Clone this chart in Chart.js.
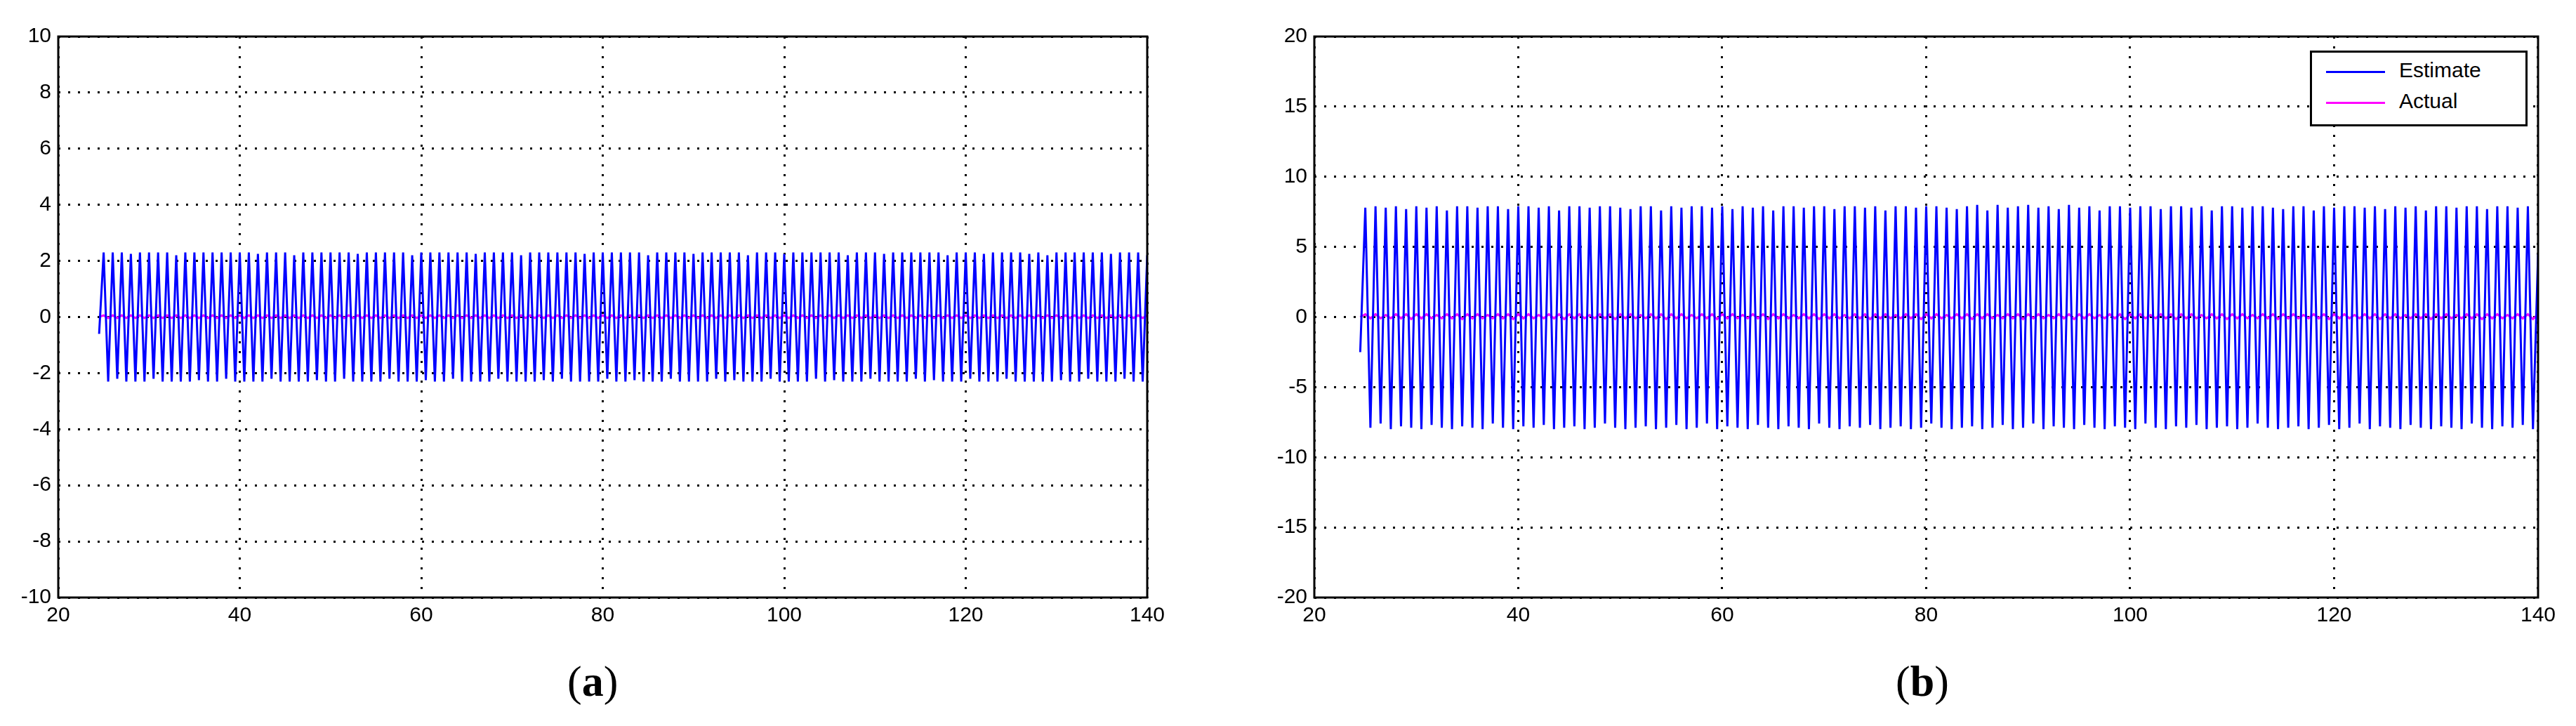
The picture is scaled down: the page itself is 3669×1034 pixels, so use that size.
<!DOCTYPE html>
<html>
<head>
<meta charset="utf-8">
<script src="https://cdn.jsdelivr.net/npm/chart.js@4.4.1/dist/chart.umd.min.js"></script>
<style>
  body { margin: 0; background: #fff; width: 3669px; height: 1034px; position: relative; overflow: hidden; }
  canvas { position: absolute; top: 0; }
  .cap { position: absolute; top: 935px; font-family: 'Liberation Serif', serif; font-size: 62px; }
  #legend { position: absolute; left: 3290px; top: 72px; width: 304px; height: 102px; border: 3px solid #000; background: #fff;
            font-family: 'Liberation Sans Narrow', 'Liberation Sans', sans-serif; font-size: 30px; }
  #legend div { position: absolute; left: 124px; }
  #legend span { position: absolute; left: -104px; width: 84px; height: 3px; top: 18px; }
</style>
</head>
<body>
<canvas id="chartA" width="1700" height="900" style="left:0px;width:1700px;height:900px"></canvas>
<canvas id="chartB" width="1868" height="900" style="left:1780px;width:1868px;height:900px"></canvas>
<div class="cap" style="left:808px">(<b>a</b>)</div>
<div class="cap" style="left:2700px">(<b>b</b>)</div>
<div id="legend">
  <div style="top:8px"><span style="background:#0000ff"></span>Estimate</div>
  <div style="top:52px"><span style="background:#ff00ff"></span>Actual</div>
</div>
<script>
// time axis: samples every 0.5 starting at 24.5
var tStart = 24.5, tStep = 0.5;
var xTicks = [20, 40, 60, 80, 100, 120, 140];
var yTicksA = [-10, -8, -6, -4, -2, 0, 2, 4, 6, 8, 10];
var yTicksB = [-20, -15, -10, -5, 0, 5, 10, 15, 20];

// (a) estimate and actual
var estimateA = [
 -0.6, 2.3, -2.3, 2.3, -2.2, 2.3, -2.3, 2.25, -2.3, 2.3, -2.3, 2.3, -2.2, 2.3, -2.3, 2.3,
 -2.3, 2.2, -2.3, 2.3, -2.3, 2.3, -2.25, 2.3, -2.3, 2.3, -2.3, 2.3, -2.2, 2.3, -2.3, 2.3,
 -2.3, 2.3, -2.3, 2.25, -2.3, 2.3, -2.2, 2.3, -2.3, 2.3, -2.3, 2.2, -2.3, 2.3, -2.3, 2.3,
 -2.25, 2.3, -2.3, 2.3, -2.3, 2.3, -2.2, 2.3, -2.3, 2.25, -2.3, 2.3, -2.3, 2.3, -2.3, 2.3,
 -2.2, 2.3, -2.3, 2.3, -2.3, 2.2, -2.3, 2.3, -2.25, 2.3, -2.3, 2.3, -2.3, 2.3, -2.2, 2.3,
 -2.3, 2.3, -2.3, 2.25, -2.3, 2.3, -2.3, 2.3, -2.2, 2.3, -2.3, 2.3, -2.3, 2.2, -2.3, 2.3,
 -2.3, 2.3, -2.25, 2.3, -2.3, 2.3, -2.2, 2.3, -2.3, 2.3, -2.3, 2.25, -2.3, 2.3, -2.3, 2.3,
 -2.2, 2.3, -2.3, 2.3, -2.3, 2.3, -2.25, 2.3, -2.3, 2.2, -2.3, 2.3, -2.3, 2.3, -2.2, 2.3,
 -2.3, 2.3, -2.3, 2.25, -2.3, 2.3, -2.3, 2.3, -2.2, 2.3, -2.3, 2.3, -2.25, 2.3, -2.3, 2.2,
 -2.3, 2.3, -2.3, 2.3, -2.2, 2.3, -2.3, 2.25, -2.3, 2.3, -2.3, 2.3, -2.3, 2.3, -2.2, 2.3,
 -2.3, 2.3, -2.25, 2.3, -2.3, 2.2, -2.3, 2.3, -2.3, 2.3, -2.2, 2.3, -2.3, 2.25, -2.3, 2.3,
 -2.3, 2.3, -2.3, 2.3, -2.2, 2.3, -2.3, 2.3, -2.25, 2.3, -2.3, 2.2, -2.3, 2.3, -2.3, 2.3,
 -2.2, 2.3, -2.3, 2.25, -2.3, 2.3, -2.3, 2.3, -2.2, 2.3, -2.3, 2.3, -2.3, 2.25, -2.3, 2.3,
 -2.3, 2.2, -2.3, 2.3, -2.25, 2.3, -2.3, 2.3, -2.3, 2.3, -2.2, 2.3, -2.3, 2.3, -2.3, 2.25,
 -2.3, 2.3, -2.2, 2.3, -2.3, 2.3, -2.3, 2.2
];
var actualA = [
 0.0, 0.06, -0.04, 0.06, -0.04, 0.06, -0.04, 0.06, -0.04, 0.06, -0.04, 0.06, -0.04, 0.06, -0.04, 0.06,
 -0.04, 0.06, -0.04, 0.06, -0.04, 0.06, -0.04, 0.06, -0.04, 0.06, -0.04, 0.06, -0.04, 0.06, -0.04, 0.06,
 -0.04, 0.06, -0.04, 0.06, -0.04, 0.06, -0.04, 0.06, -0.04, 0.06, -0.04, 0.06, -0.04, 0.06, -0.04, 0.06,
 -0.04, 0.06, -0.04, 0.06, -0.04, 0.06, -0.04, 0.06, -0.04, 0.06, -0.04, 0.06, -0.04, 0.06, -0.04, 0.06,
 -0.04, 0.06, -0.04, 0.06, -0.04, 0.06, -0.04, 0.06, -0.04, 0.06, -0.04, 0.06, -0.04, 0.06, -0.04, 0.06,
 -0.04, 0.06, -0.04, 0.06, -0.04, 0.06, -0.04, 0.06, -0.04, 0.06, -0.04, 0.06, -0.04, 0.06, -0.04, 0.06,
 -0.04, 0.06, -0.04, 0.06, -0.04, 0.06, -0.04, 0.06, -0.04, 0.06, -0.04, 0.06, -0.04, 0.06, -0.04, 0.06,
 -0.04, 0.06, -0.04, 0.06, -0.04, 0.06, -0.04, 0.06, -0.04, 0.06, -0.04, 0.06, -0.04, 0.06, -0.04, 0.06,
 -0.04, 0.06, -0.04, 0.06, -0.04, 0.06, -0.04, 0.06, -0.04, 0.06, -0.04, 0.06, -0.04, 0.06, -0.04, 0.06,
 -0.04, 0.06, -0.04, 0.06, -0.04, 0.06, -0.04, 0.06, -0.04, 0.06, -0.04, 0.06, -0.04, 0.06, -0.04, 0.06,
 -0.04, 0.06, -0.04, 0.06, -0.04, 0.06, -0.04, 0.06, -0.04, 0.06, -0.04, 0.06, -0.04, 0.06, -0.04, 0.06,
 -0.04, 0.06, -0.04, 0.06, -0.04, 0.06, -0.04, 0.06, -0.04, 0.06, -0.04, 0.06, -0.04, 0.06, -0.04, 0.06,
 -0.04, 0.06, -0.04, 0.06, -0.04, 0.06, -0.04, 0.06, -0.04, 0.06, -0.04, 0.06, -0.04, 0.06, -0.04, 0.06,
 -0.04, 0.06, -0.04, 0.06, -0.04, 0.06, -0.04, 0.06, -0.04, 0.06, -0.04, 0.06, -0.04, 0.06, -0.04, 0.06,
 -0.04, 0.06, -0.04, 0.06, -0.04, 0.06, -0.04, 0.06
];

// (b) estimate and actual
var estimateB = [
 -2.5, 7.8, -7.9, 7.9, -7.6, 7.8, -8.0, 7.9, -7.8, 7.7, -7.9, 7.9, -8.0, 7.8, -7.7, 7.9,
 -7.9, 7.6, -8.0, 7.9, -7.8, 7.9, -7.9, 7.8, -8.0, 7.9, -7.6, 7.9, -7.9, 7.7, -8.0, 7.9,
 -7.8, 7.9, -7.9, 7.8, -7.7, 7.9, -8.0, 7.6, -7.9, 7.9, -7.8, 7.9, -8.0, 7.8, -7.9, 7.9,
 -7.6, 7.9, -7.9, 7.8, -8.0, 7.7, -7.9, 7.9, -7.8, 7.9, -8.0, 7.6, -7.9, 7.9, -7.7, 7.8,
 -8.0, 7.9, -7.9, 7.9, -7.6, 7.8, -8.0, 7.9, -7.8, 7.7, -7.9, 7.9, -8.0, 7.8, -7.7, 7.9,
 -7.9, 7.6, -8.0, 7.9, -7.8, 7.9, -7.9, 7.8, -8.0, 7.9, -7.6, 7.9, -7.9, 7.7, -8.0, 7.9,
 -7.8, 7.9, -7.9, 7.8, -7.7, 7.9, -8.0, 7.6, -7.9, 7.9, -7.8, 7.9, -8.0, 7.8, -7.9, 7.9,
 -7.6, 7.9, -7.9, 7.8, -8.0, 7.7, -7.9, 7.9, -7.8, 8.0, -8.0, 7.6, -7.9, 8.0, -7.7, 7.8,
 -8.0, 7.9, -7.9, 8.0, -7.6, 7.8, -8.0, 7.9, -7.8, 7.7, -7.9, 8.0, -8.0, 7.8, -7.7, 7.9,
 -7.9, 7.6, -8.0, 7.9, -7.8, 7.9, -7.9, 7.8, -8.0, 7.9, -7.6, 7.9, -7.9, 7.7, -8.0, 7.9,
 -7.8, 7.9, -7.9, 7.8, -7.7, 7.9, -8.0, 7.6, -7.9, 7.9, -7.8, 7.9, -8.0, 7.8, -7.9, 7.9,
 -7.6, 7.9, -7.9, 7.8, -8.0, 7.7, -7.9, 7.9, -7.8, 7.9, -8.0, 7.6, -7.9, 7.9, -7.7, 7.8,
 -8.0, 7.9, -7.9, 7.9, -7.6, 7.8, -8.0, 7.9, -7.8, 7.7, -7.9, 7.9, -8.0, 7.8, -7.7, 7.9,
 -7.9, 7.6, -8.0, 7.9, -7.8, 7.9, -7.9, 7.8, -8.0, 7.9, -7.6, 7.9, -7.9, 7.7, -8.0, 7.9,
 -7.8, 7.9, -7.9, 7.8, -7.7, 7.9, -8.0, 4.5
];
var actualB = [
 0.0, 0.2, -0.1, 0.2, -0.1, 0.15, -0.1, 0.2, -0.1, 0.2, -0.15, 0.2, -0.1, 0.2, -0.1, 0.15,
 -0.1, 0.2, -0.1, 0.2, -0.15, 0.2, -0.1, 0.2, -0.1, 0.15, -0.1, 0.2, -0.1, 0.2, -0.15, 0.2,
 -0.1, 0.2, -0.1, 0.15, -0.1, 0.2, -0.1, 0.2, -0.15, 0.2, -0.1, 0.2, -0.1, 0.15, -0.1, 0.2,
 -0.1, 0.2, -0.15, 0.2, -0.1, 0.2, -0.1, 0.15, -0.1, 0.2, -0.1, 0.2, -0.15, 0.2, -0.1, 0.2,
 -0.1, 0.15, -0.1, 0.2, -0.1, 0.2, -0.15, 0.2, -0.1, 0.2, -0.1, 0.15, -0.1, 0.2, -0.1, 0.2,
 -0.15, 0.2, -0.1, 0.2, -0.1, 0.15, -0.1, 0.2, -0.1, 0.2, -0.15, 0.2, -0.1, 0.2, -0.1, 0.15,
 -0.1, 0.2, -0.1, 0.2, -0.15, 0.2, -0.1, 0.2, -0.1, 0.15, -0.1, 0.2, -0.1, 0.2, -0.15, 0.2,
 -0.1, 0.2, -0.1, 0.15, -0.1, 0.2, -0.1, 0.2, -0.15, 0.2, -0.1, 0.2, -0.1, 0.15, -0.1, 0.2,
 -0.1, 0.2, -0.15, 0.2, -0.1, 0.2, -0.1, 0.15, -0.1, 0.2, -0.1, 0.2, -0.15, 0.2, -0.1, 0.2,
 -0.1, 0.15, -0.1, 0.2, -0.1, 0.2, -0.15, 0.2, -0.1, 0.2, -0.1, 0.15, -0.1, 0.2, -0.1, 0.2,
 -0.15, 0.2, -0.1, 0.2, -0.1, 0.15, -0.1, 0.2, -0.1, 0.2, -0.15, 0.2, -0.1, 0.2, -0.1, 0.15,
 -0.1, 0.2, -0.1, 0.2, -0.15, 0.2, -0.1, 0.2, -0.1, 0.15, -0.1, 0.2, -0.1, 0.2, -0.15, 0.2,
 -0.1, 0.2, -0.1, 0.15, -0.1, 0.2, -0.1, 0.2, -0.15, 0.2, -0.1, 0.2, -0.1, 0.15, -0.1, 0.2,
 -0.1, 0.2, -0.15, 0.2, -0.1, 0.2, -0.1, 0.15, -0.1, 0.2, -0.1, 0.2, -0.15, 0.2, -0.1, 0.2,
 -0.1, 0.15, -0.1, 0.2, -0.1, 0.2, -0.15, 0.2
];

function toPoints(values) {
    return values.map(function (v, i) { return { x: tStart + i * tStep, y: v }; });
}

// draws the closed box around the plot area like matlab does
var boxPlugin = {
    id: 'box',
    afterDraw: function (chart) {
        var a = chart.chartArea, ctx = chart.ctx;
        ctx.save();
        ctx.strokeStyle = '#000';
        ctx.lineWidth = 3;
        ctx.strokeRect(a.left, a.top, a.right - a.left, a.bottom - a.top);
        ctx.restore();
    }
};

function makeConfig(est, act, yTicks, yWidth, padRight) {
    var font = { family: "'Liberation Sans Narrow', 'Liberation Sans', sans-serif", size: 30 };
    return {
        type: 'line',
        data: {
            datasets: [
                { label: 'Estimate', data: toPoints(est), borderColor: '#0000ff', borderWidth: 3, pointRadius: 0, tension: 0 },
                { label: 'Actual', data: toPoints(act), borderColor: '#ff00ff', borderWidth: 3, pointRadius: 0, tension: 0 }
            ]
        },
        options: {
            responsive: false,
            animation: false,
            layout: { padding: { top: 52, right: padRight, left: 0, bottom: 0 } },
            plugins: { legend: { display: false }, tooltip: { enabled: false } },
            scales: {
                x: {
                    type: 'linear', min: 20, max: 140,
                    afterBuildTicks: function (axis) { axis.ticks = xTicks.map(function (v) { return { value: v }; }); },
                    afterFit: function (axis) { axis.height = 49; },
                    grid: { color: '#000', lineWidth: 3, tickLength: 0 },
                    border: { display: false, dash: [3, 11] },
                    ticks: { color: '#000', font: font, padding: 8, maxRotation: 0 }
                },
                y: {
                    min: yTicks[0], max: yTicks[yTicks.length - 1],
                    afterBuildTicks: function (axis) { axis.ticks = yTicks.map(function (v) { return { value: v }; }); },
                    afterFit: function (axis) { axis.width = yWidth; },
                    grid: { color: '#000', lineWidth: 3, tickLength: 0 },
                    border: { display: false, dash: [3, 11] },
                    ticks: { color: '#000', font: font, padding: 10 }
                }
            }
        },
        plugins: [boxPlugin]
    };
}

new Chart(document.getElementById('chartA'), makeConfig(estimateA, actualA, yTicksA, 83, 66));
new Chart(document.getElementById('chartB'), makeConfig(estimateB, actualB, yTicksB, 92, 15));
</script>
</body>
</html>
